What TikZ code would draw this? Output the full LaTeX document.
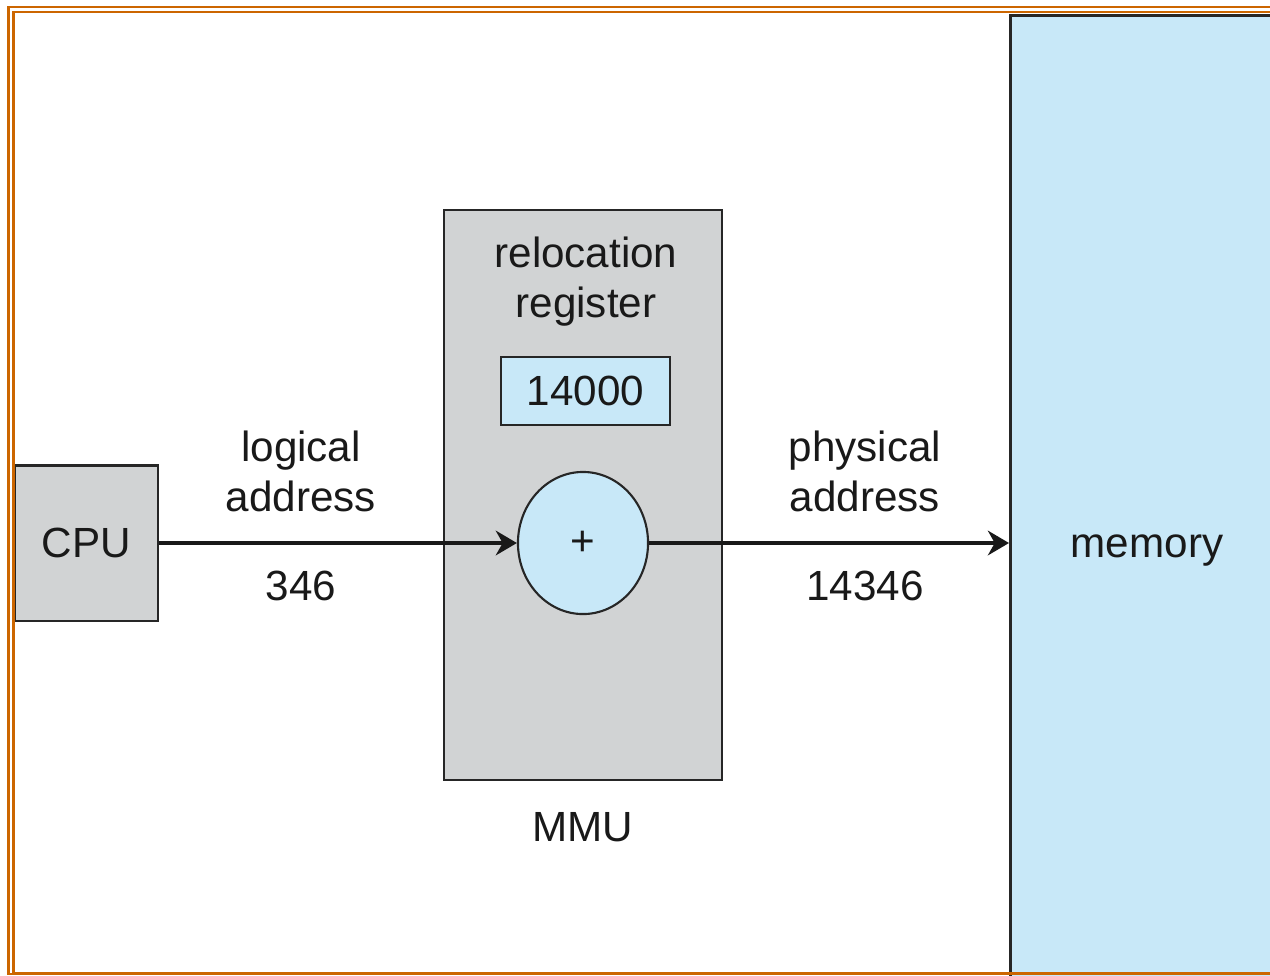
\documentclass[tikz,border=0pt]{standalone}
\usepackage{fontspec}
\setmainfont{Liberation Sans}
\usetikzlibrary{arrows.meta,shapes.geometric}
\definecolor{boxgray}{RGB}{209,211,212}
\definecolor{memblue}{RGB}{200,232,248}
\definecolor{frameorange}{RGB}{204,102,0}
\begin{document}
\begin{tikzpicture}[x=0.01cm,y=-0.01cm]
    \tikzset{every node/.style={font=\fontsize{12}{14.2}\selectfont, text=black!90},
      graybox/.style={draw=black!85, line width=0.6pt, fill=boxgray, inner sep=0pt},
      bluebox/.style={draw=black!85, line width=0.6pt, fill=memblue, inner sep=0pt},
      addr/.style={-{Stealth[length=6pt,width=7pt]}, line width=1.35pt, black!90}}
    \useasboundingbox (0,0) rectangle (1270,975);
    \fill [white] (0,0) rectangle (1270,975);
    % memory
    \node [bluebox, line width=0.9pt, anchor=north west, minimum width=3cm, minimum height=9.7cm] (mem) at (1009,14) {};
    \node (memlbl) at (1147,551) {memory};
    % cpu
    \node [graybox, minimum width=1.43cm, minimum height=1.55cm] (cpu) at (86.5,543) {CPU};
    % mmu
    \node [graybox, minimum width=2.78cm, minimum height=5.7cm] (mmu) at (583,495) {};
    \node [align=center] (rellbl) at (586,282) {relocation\\register};
    \node [bluebox, minimum width=1.69cm, minimum height=0.68cm] (reg) at (585.5,391) {14000};
    \node [bluebox, ellipse, minimum width=1.3cm, minimum height=1.42cm] (adder) at (583,543) {+};
    \node (mmulbl) at (583,827) {MMU};
    % addresses
    \node [align=center] (logaddr) at (301,471) {logical\\address};
    \node (logval) at (301,586) {346};
    \node [align=center] (physaddr) at (865,471) {physical\\address};
    \node (physval) at (865,586) {14346};
    \draw [addr] (cpu.east) -- (adder.west);
    \draw [addr] (adder.east) -- (adder.east -| mem.west);
    % frame
    \draw [frameorange, line width=0.8pt] (8.5,7) rectangle (1290,974);
    \draw [frameorange, line width=0.8pt] (13.5,12) rectangle (1290,973);
\end{tikzpicture}
\end{document}
